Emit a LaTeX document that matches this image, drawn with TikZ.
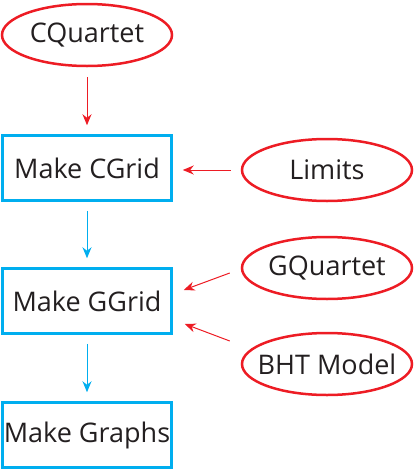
\documentclass[tikz,border=0pt]{standalone}
\usepackage{fontspec}
\setmainfont{Open Sans}
\usetikzlibrary{positioning,arrows.meta,shapes.geometric,calc}
\definecolor{inputC}{RGB}{237,28,36}
\definecolor{stepC}{RGB}{0,174,239}
\definecolor{textC}{RGB}{35,31,32}
\tikzset{
	datafile/.style={ellipse, draw=inputC, line width=2.5pt,
		inner xsep=-45pt, inner ysep=-12pt,
		minimum width=170pt, minimum height=62pt, text=textC,
		font=\fontsize{27}{32}\selectfont},
	stepbox/.style={draw=stepC, line width=2.5pt, inner sep=0pt,
		minimum width=169pt, minimum height=65pt, text=textC,
		font=\fontsize{27}{32}\selectfont},
	feed/.style={-{Stealth[length=11pt,width=9pt]}, line width=1pt, inputC},
	flow/.style={-{Stealth[length=11pt,width=9pt]}, line width=1pt, stepC},
}
\begin{document}
\begin{tikzpicture}[x=1pt,y=-1pt]
		\useasboundingbox (0,0) rectangle (415,469);
		
		% ================= Processing steps =================
		\node[stepbox] (cgrid) at (87,168) {Make CGrid};
		\node[stepbox] (ggrid) at (87,301) {Make GGrid};
		\node[stepbox] (graphs) at (87,435) {Make Graphs};
		
		% ================= Input files =================
		\node[datafile] (cquartet) at (87,35) {CQuartet};
		\node[datafile] (limits) at (327,170) {Limits};
		\node[datafile] (gquartet) at (327,268) {GQuartet};
		\node[datafile] (bht) at (327,364) {BHT Model};
		
		% Inputs feeding the steps
		\draw[feed, shorten <=10pt, shorten >=9pt] (cquartet.south) -- (cquartet.south |- cgrid.north);
		\draw[feed, shorten <=10pt, shorten >=10pt] (limits.west) -- (cgrid.east |- limits.west);
		\draw[feed] ($(gquartet.west)+(-11,5)$) -- ($(ggrid.east)+(11,-11)$);
		\draw[feed] ($(bht.west)+(-11,-23)$) -- ($(ggrid.east)+(12,23)$);
		
		% Step to step
		\draw[flow, shorten <=9pt, shorten >=9pt] (cgrid.south) -- (ggrid.north);
		\draw[flow, shorten <=9pt, shorten >=9pt] (ggrid.south) -- (graphs.north);
		
	\end{tikzpicture}
\end{document}
